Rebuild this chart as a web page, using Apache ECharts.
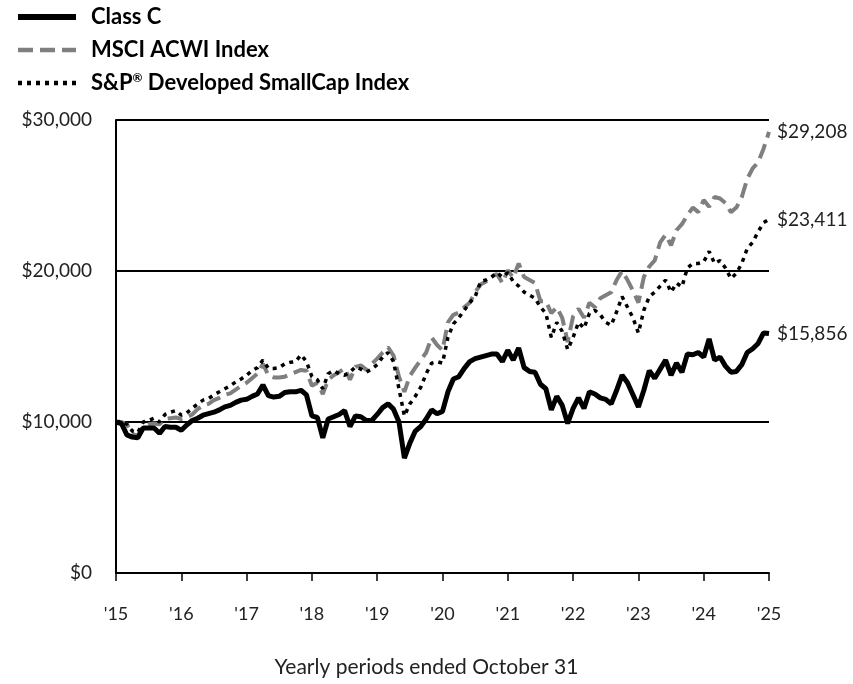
<!DOCTYPE html>
<html>
<head>
<meta charset="utf-8">
<script src="https://cdn.jsdelivr.net/npm/echarts@6/dist/echarts.min.js"></script>
<style>
  html, body { margin: 0; padding: 0; background: #fff; }
  #box { width: 853px; height: 684px; }
</style>
</head>
<body>
<div id="box"></div>
<script>
// monthly values, Oct 2015 .. Oct 2025 (hypothetical $10,000)
const yearLabels = ["'15", "'16", "'17", "'18", "'19", "'20", "'21", "'22", "'23", "'24", "'25"];

const classC = [
  10000, 9900, 9150, 9000, 8950, 9600, 9600, 9600, 9250, 9700, 9650, 9650, 9450,
  9800, 10100, 10250, 10450, 10550, 10650, 10800, 11000, 11100, 11300, 11450, 11500,
  11700, 11850, 12450, 11750, 11650, 11700, 11950, 12000, 12000, 12100, 11800, 10400,
  10300, 8950, 10200, 10350, 10500, 10750, 9700, 10400, 10350, 10100, 10100, 10500,
  10950, 11200, 10850, 10000, 7600, 8600, 9400, 9700, 10200, 10800, 10550, 10700,
  12000, 12850, 13000, 13550, 14000, 14200, 14300, 14400, 14500, 14500, 14000, 14750,
  14100, 14900, 13600, 13350, 13300, 12500, 12200, 10800, 11700, 11100, 9900, 10900,
  11600, 10900, 12000, 11850, 11600, 11500, 11200, 12100, 13100, 12600, 11800, 11000,
  12100, 13400, 12900, 13500, 14100, 13100, 13900, 13300, 14500, 14450, 14600, 14300,
  15500, 14100, 14300, 13700, 13300, 13350, 13800, 14600, 14850, 15200, 15900, 15856
];

const msciAcwi = [
  10000, 10000, 9850, 9200, 9100, 9700, 9850, 9900, 9850, 10200, 10250, 10300, 10200,
  10300, 10500, 10850, 11100, 11200, 11450, 11600, 11800, 11900, 12150, 12400, 12600,
  12900, 13200, 13850, 13100, 12950, 12950, 13000, 13150, 13300, 13450, 13400, 12400,
  12600, 11850, 12800, 13100, 13300, 13550, 12800, 13650, 13750, 13450, 13850, 14200,
  14600, 14950, 14400, 13000, 12000, 13050, 13600, 14100, 14600, 15600, 15100, 14750,
  16600, 17100, 17250, 17600, 17900, 18600, 19100, 19300, 19600, 19800, 19200, 20050,
  19550, 20500, 19600, 19400, 19200, 18000, 18000, 17200, 17600, 16900, 15300, 17000,
  17500, 16900, 17900, 17600, 18200, 18400, 18600, 19400, 20000, 19400, 18700, 17900,
  19600, 20300, 20700, 21900, 22400, 21700, 22700, 23100, 23700, 24200, 23900, 24700,
  24250, 24900, 24800, 24500, 23900, 24200, 24900, 26100, 26800, 27200, 28100, 29208
];

const spSmallCap = [
  10000, 10050, 9850, 9400, 9300, 10000, 10100, 10250, 10000, 10500, 10650, 10750, 10450,
  10600, 10900, 11200, 11450, 11550, 11800, 12000, 12200, 12400, 12650, 12850, 13100,
  13400, 13600, 14100, 13550, 13550, 13600, 13850, 13950, 14000, 14450, 14000, 13000,
  12800, 12200, 13200, 13400, 13200, 13100, 13300, 13650, 13500, 13300, 13500, 13800,
  14300, 14600, 14000, 12200, 10400, 11200, 11700, 12300, 13200, 13900, 14000, 13900,
  15600, 16500, 16900, 17400, 17900, 18300, 19300, 19400, 19600, 19900, 19600, 19900,
  19300, 19000, 18600, 18400, 18200, 17600, 17200, 15600, 16600, 16000, 14800, 15600,
  16600, 16200, 17200, 17400, 17100, 16600, 16400, 17300, 18300, 17600, 16900, 15900,
  17400, 18300, 18600, 19000, 19400, 18600, 19200, 18950, 20200, 20500, 20500, 20600,
  21300, 20500, 20700, 20200, 19500, 19850, 20500, 21500, 21900, 22600, 23200, 23411
];

const seriesNames = ['Class C', 'MSCI ACWI Index', 'S&P® Developed SmallCap Index'];

const toPoints = arr => arr.map((v, i) => [i, v]);
const money = v => '$' + v.toLocaleString('en-US');
const font = 'Lato, "Open Sans", sans-serif';

let myChart = echarts.init(document.getElementById('box'));

let endLabel = {
    show: true,
    distance: 8,
    fontFamily: font,
    fontSize: 19,
    color: '#222',
    formatter: p => money(p.value[1])
};

let option = {
    animation: false,
    title: {
        text: 'Yearly periods ended October 31',
        left: 'center',
        top: 652,
        textStyle: { fontFamily: font, fontSize: 21, fontWeight: 'normal', color: '#222' }
    },
    grid: { left: 116, right: 84, top: 120, bottom: 111 },
    legend: {
        orient: 'vertical',
        left: 10,
        top: 1,
        itemWidth: 58,
        itemHeight: 14,
        itemGap: 11,
        data: [
            { name: seriesNames[0], lineStyle: { width: 6 } },
            { name: seriesNames[1], lineStyle: { width: 4.5 } },
            { name: seriesNames[2], lineStyle: { width: 4.5 } }
        ],
        // hide the marker circle, keep only the line sample
        itemStyle: { color: 'rgba(0,0,0,0)', borderWidth: 0, opacity: 0 },
        formatter: name => name === seriesNames[2]
            ? 'S&P{sup|®} Developed SmallCap Index' : name,
        textStyle: {
            fontFamily: font,
            fontSize: 22,
            lineHeight: 22,
            fontWeight: 'bold',
            color: '#000',
            padding: [0, 0, 0, 10],
            rich: {
                sup: { fontSize: 12, fontWeight: 'bold', verticalAlign: 'top', lineHeight: 22, padding: [0, 0, 8, 0] }
            }
        }
    },
    xAxis: {
        type: 'value',
        min: 0,
        max: 120,
        interval: 12,
        axisLine: { lineStyle: { color: '#000', width: 2 } },
        axisTick: { show: true, length: 8, lineStyle: { color: '#000', width: 1.5 } },
        axisLabel: {
            margin: 32,
            fontFamily: font,
            fontSize: 18,
            color: '#222',
            formatter: v => yearLabels[Math.round(v / 12)]
        },
        splitLine: { show: false }
    },
    yAxis: {
        type: 'value',
        min: 0,
        max: 30000,
        interval: 10000,
        axisLine: { show: true, lineStyle: { color: '#000', width: 2 } },
        axisTick: { show: false },
        axisLabel: { margin: 24, fontFamily: font, fontSize: 19, color: '#222', formatter: money },
        splitLine: { show: true, lineStyle: { color: '#000', width: 2 } }
    },
    series: [
        {
            name: seriesNames[1],
            type: 'line',
            data: toPoints(msciAcwi),
            symbol: 'none',
            z: 3,
            lineStyle: { color: '#7f7f7f', width: 4, type: [15, 7] },
            itemStyle: { color: '#7f7f7f' },
            endLabel: endLabel
        },
        {
            name: seriesNames[2],
            type: 'line',
            data: toPoints(spSmallCap),
            symbol: 'none',
            z: 4,
            lineStyle: { color: '#000', width: 3.5, type: [4, 5] },
            itemStyle: { color: '#000' },
            endLabel: endLabel
        },
        {
            name: seriesNames[0],
            type: 'line',
            data: toPoints(classC),
            symbol: 'none',
            z: 5,
            lineStyle: { color: '#000', width: 5 },
            itemStyle: { color: '#000' },
            endLabel: endLabel
        }
    ]
};
myChart.setOption(option);
</script>
</body>
</html>
